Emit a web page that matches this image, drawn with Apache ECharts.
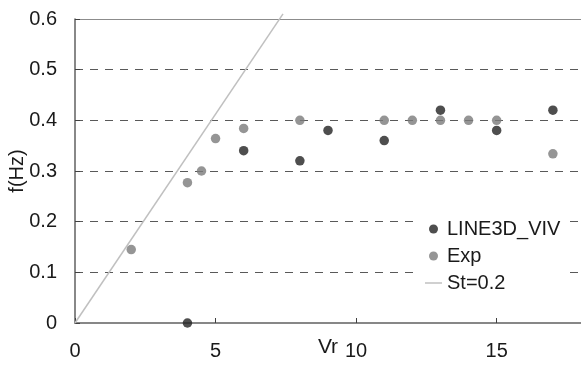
<!DOCTYPE html>
<html>
<head>
<meta charset="utf-8">
<script src="https://cdn.jsdelivr.net/npm/echarts@6/dist/echarts.min.js"></script>
<style>
  html, body { margin: 0; padding: 0; background: #fff; }
  #chart { width: 581px; height: 365px; }
</style>
</head>
<body>
<div id="chart"></div>
<script>
// Vortex-induced vibration: response frequency against reduced velocity
const vivVr = [4, 6, 8, 9, 11, 13, 15, 17];
const vivF  = [0, 0.34, 0.32, 0.38, 0.36, 0.42, 0.38, 0.42];

const expVr = [2, 4, 4.5, 5, 6, 8, 11, 12, 13, 14, 15, 17];
const expF  = [0.145, 0.277, 0.3, 0.364, 0.384, 0.4, 0.4, 0.4, 0.4, 0.4, 0.4, 0.334];

// Strouhal line St = 0.2
const stVr = [0, 7.4];
const stF  = [0, 0.61];

const seriesNames = ['LINE3D_VIV', 'Exp', 'St=0.2'];

const pairs = (xs, ys) => xs.map((x, i) => [x, ys[i]]);

const FONT = 'Liberation Sans, Arial, sans-serif';
const TEXT = '#1a1a1a';

const chart = echarts.init(document.getElementById('chart'), null, { renderer: 'canvas' });

chart.setOption({
  animation: false,
  backgroundColor: '#fff',
  textStyle: { fontFamily: FONT },
  grid: { left: 75, top: 19, right: 0, bottom: 42, containLabel: false, outerBoundsMode: 'none' },
  legend: {
    data: [
      { name: seriesNames[0] },
      { name: seriesNames[1] },
      // plain horizontal stroke for the reference line
      { name: seriesNames[2], icon: 'path://M0,0H17V1.5H0Z' }
    ],
    orient: 'vertical',
    left: 420,
    top: 214,
    padding: 5,
    itemGap: 7,
    itemWidth: 17,
    itemHeight: 9,
    backgroundColor: '#fff',
    textStyle: { fontFamily: FONT, fontSize: 20, color: TEXT }
  },
  xAxis: [{
    type: 'value',
    min: 0,
    max: 18,
    interval: 5,
    name: 'Vr',
    nameLocation: 'middle',
    nameGap: 14,
    nameMoveOverlap: false,
    nameTextStyle: { fontFamily: FONT, fontSize: 21, color: TEXT },
    axisLine: { lineStyle: { color: '#606060', width: 1.5 } },
    axisTick: { inside: true, length: 5, lineStyle: { color: '#404040', width: 1 } },
    axisLabel: { fontFamily: FONT, fontSize: 20, color: TEXT, margin: 18, showMaxLabel: false },
    splitLine: { show: false }
  }, {
    type: 'value',
    position: 'top',
    min: 0,
    max: 18,
    axisLine: { show: true, lineStyle: { color: '#8c8c8c', width: 1 } },
    axisTick: { show: false },
    axisLabel: { show: false },
    splitLine: { show: false }
  }],
  yAxis: {
    type: 'value',
    min: 0,
    max: 0.6,
    interval: 0.1,
    name: 'f(Hz)',
    nameLocation: 'middle',
    nameGap: 48,
    nameRotate: 90,
    nameMoveOverlap: false,
    nameTextStyle: { fontFamily: FONT, fontSize: 20, color: TEXT },
    axisLine: { show: true, lineStyle: { color: '#606060', width: 1.5 } },
    axisTick: { show: true, inside: true, length: 5, lineStyle: { color: '#404040', width: 1 } },
    axisLabel: { fontFamily: FONT, fontSize: 20, color: TEXT, margin: 18 },
    splitLine: {
      show: true,
      showMinLine: false,
      showMaxLine: false,
      lineStyle: { color: '#595959', width: 1, type: [8, 7] }
    }
  },
  series: [{
    name: 'St=0.2',
    type: 'line',
    data: pairs(stVr, stF),
    symbol: 'none',
    clip: false,
    z: 1,
    color: '#c0c0c0',
    itemStyle: { color: '#c0c0c0' },
    lineStyle: { color: '#c0c0c0', width: 1.5 }
  }, {
    name: 'LINE3D_VIV',
    type: 'scatter',
    data: pairs(vivVr, vivF),
    symbol: 'circle',
    symbolSize: 9.5,
    clip: false,
    z: 3,
    itemStyle: { color: '#222222' }
  }, {
    name: 'Exp',
    type: 'scatter',
    data: pairs(expVr, expF),
    symbol: 'circle',
    symbolSize: 9.5,
    z: 2,
    itemStyle: { color: '#7a7a7a' }
  }]
});
</script>
</body>
</html>
